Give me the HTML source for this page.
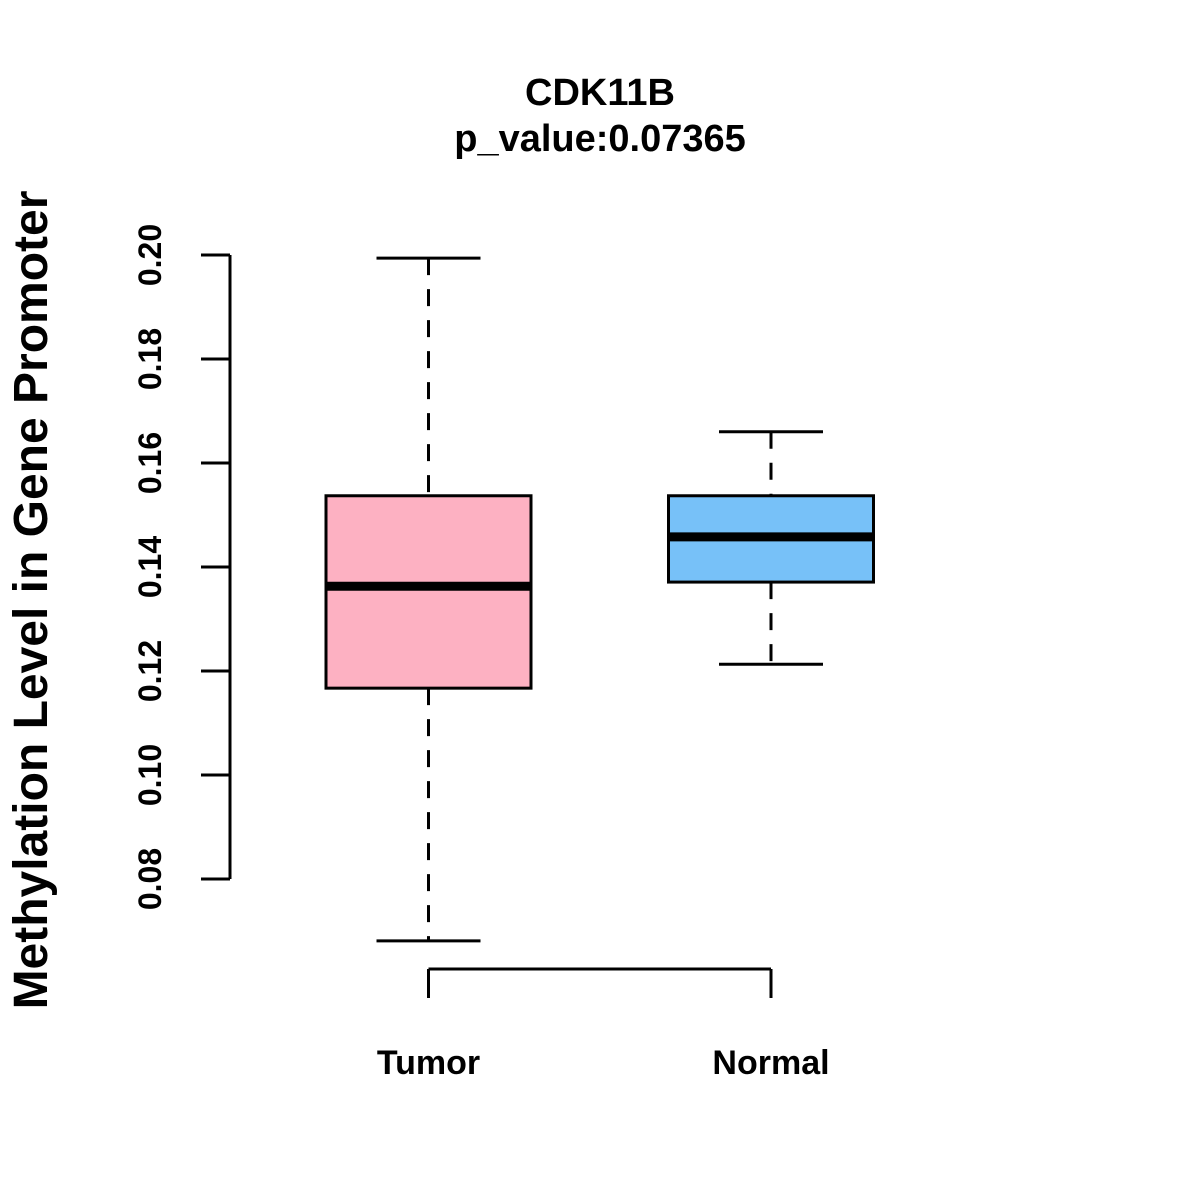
<!DOCTYPE html>
<html><head><meta charset="utf-8"><style>
html,body{margin:0;padding:0;background:#fff}
svg{display:block;font-family:"Liberation Sans",Arial,sans-serif;font-weight:bold}
</style></head><body>
<svg id="chart" width="1200" height="1200" viewBox="0 0 1200 1200">
<text x="600" y="105" text-anchor="middle" font-size="38">CDK11B</text>
<text x="600" y="151" text-anchor="middle" font-size="38">p_value:0.07365</text>
<text transform="translate(47,600) rotate(-90)" text-anchor="middle" font-size="48">Methylation Level in Gene Promoter</text>
<g id="yaxis"></g>
<g id="xaxis"></g>
<g id="boxes"></g>
</svg>
<script>
const categories = ["Tumor", "Normal"];
const whiskerLow = [0.0681, 0.1213];
const q1Values = [0.1167, 0.1371];
const medianValues = [0.1363, 0.1458];
const q3Values = [0.1537, 0.1537];
const whiskerHigh = [0.1994, 0.1660];
const yTicks = [0.08, 0.10, 0.12, 0.14, 0.16, 0.18, 0.20];
const yTickLabels = ["0.08", "0.10", "0.12", "0.14", "0.16", "0.18", "0.20"];
const fills = ["#FDB1C2", "#77C1F8"];

const NS = "http://www.w3.org/2000/svg";
function y(v){ return 255 + (0.20 - v) * 5200; }
function x(i){ return 428.5 + i * 342.5; }
function mk(tag, attrs, parent){
  const e = document.createElementNS(NS, tag);
  for (const k in attrs) e.setAttribute(k, attrs[k]);
  parent.appendChild(e);
  return e;
}
const ya = document.getElementById("yaxis");
const yl = mk("line", {x1:230, x2:230, y1:y(yTicks[yTicks.length-1]), y2:y(yTicks[0]), stroke:"#000", "stroke-width":3}, ya);


yTicks.forEach((t, i) => {
  const tk = mk("line", {x1:201, x2:230, y1:y(t), y2:y(t), stroke:"#000", "stroke-width":3}, ya);
  
  
  const tx = mk("text", {transform:`translate(161,${y(t)}) rotate(-90)`, "text-anchor":"middle", "font-size":"32"}, ya);
  tx.textContent = yTickLabels[i];
  
  
});
const xa = document.getElementById("xaxis");
const xl = mk("line", {x1:x(0), x2:x(categories.length-1), y1:969, y2:969, stroke:"#000", "stroke-width":3}, xa);


categories.forEach((c, i) => {
  const tk = mk("line", {x1:x(i), x2:x(i), y1:969, y2:998, stroke:"#000", "stroke-width":3}, xa);
  
  
  const tx = mk("text", {x:x(i), y:1074, "text-anchor":"middle", "font-size":"34"}, xa);
  tx.textContent = c;
  
  
});
const bx = document.getElementById("boxes");
categories.forEach((c, i) => {
  const cx = x(i), hw = 102.5, cw = 52;
  const g = mk("g", {}, bx);
  
  
  const w1 = mk("line", {x1:cx, x2:cx, y1:y(whiskerHigh[i]), y2:y(q3Values[i]), stroke:"#000", "stroke-width":3, "stroke-dasharray":"17,14"}, g);
  
  
  const w2 = mk("line", {x1:cx, x2:cx, y1:y(q1Values[i]), y2:y(whiskerLow[i]), stroke:"#000", "stroke-width":3, "stroke-dasharray":"17,14"}, g);
  
  
  const c1 = mk("line", {x1:cx-cw, x2:cx+cw, y1:y(whiskerHigh[i]), y2:y(whiskerHigh[i]), stroke:"#000", "stroke-width":3}, g);
  
  
  const c2 = mk("line", {x1:cx-cw, x2:cx+cw, y1:y(whiskerLow[i]), y2:y(whiskerLow[i]), stroke:"#000", "stroke-width":3}, g);
  
  
  const r = mk("rect", {x:cx-hw, y:y(q3Values[i]), width:2*hw, height:y(q1Values[i])-y(q3Values[i]), fill:fills[i], stroke:"#000", "stroke-width":3}, g);
  
  
  const m = mk("line", {x1:cx-hw, x2:cx+hw, y1:y(medianValues[i]), y2:y(medianValues[i]), stroke:"#000", "stroke-width":9}, g);
  
  
});
</script>
</body></html>
